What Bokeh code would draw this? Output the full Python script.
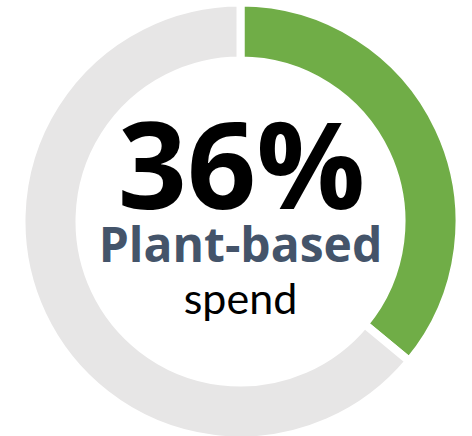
import numpy as np
from bokeh.plotting import figure
from bokeh.models import ColumnDataSource, Range1d
from bokeh.core.properties import value
from bokeh.embed import file_html
from bokeh.resources import INLINE

# Data
segments = ["Plant-based", "Other"]
shares = [36, 64]
colors = ["#70AD47", "#E7E6E6"]
headline = "36%"
label_main = "Plant-based"
label_sub = "spend"

W, H = 472, 436
cx, cy = 240, 215
r_out, r_in = 219, 161

p = figure(width=W, height=H, output_backend="svg", toolbar_location=None,
           x_range=Range1d(0, W), y_range=Range1d(0, H), min_border=0)
p.axis.visible = False
p.grid.visible = False
p.outline_line_color = None
p.background_fill_color = "white"
p.border_fill_color = "white"

fr = np.array(shares, dtype=float) / sum(shares)
cum = np.concatenate([[0], np.cumsum(fr)])
start = np.pi / 2 - cum[:-1] * 2 * np.pi
end = np.pi / 2 - cum[1:] * 2 * np.pi
src = ColumnDataSource(dict(seg=segments, start=start, end=end, color=colors))
p.annular_wedge(x=cx, y=cy, inner_radius=r_in, outer_radius=r_out,
                start_angle="start", end_angle="end", direction="clock",
                fill_color="color", line_color="white", line_width=8,
                line_join="miter", source=src)

p.text(x=[cx + 1], y=[275], text=[headline], text_font=value("Open Sans"),
       text_font_style="bold", text_font_size="121px", text_color="#000000",
       text_align="center", text_baseline="alphabetic")
p.text(x=[cx], y=[193], text=[label_main], text_font=value("Open Sans"),
       text_font_style="bold", text_font_size="48px", text_color="#44546A",
       text_align="center", text_baseline="alphabetic")
p.text(x=[cx], y=[139], text=[label_sub], text_font=value("Lato"),
       text_font_size="43px", text_color="#000000",
       text_align="center", text_baseline="alphabetic")

open("out.html", "w").write(file_html(p, INLINE))
